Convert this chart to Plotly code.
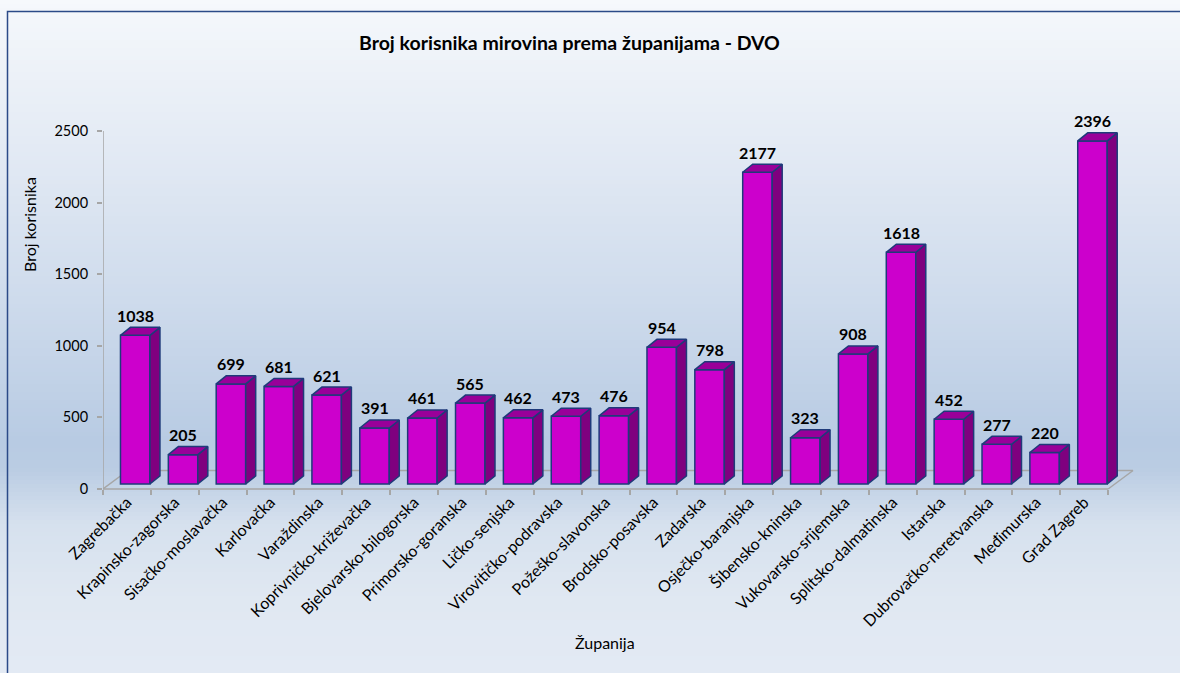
import plotly.graph_objects as go

categories = ["Zagrebačka", "Krapinsko-zagorska", "Sisačko-moslavačka", "Karlovačka",
              "Varaždinska", "Koprivničko-križevačka", "Bjelovarsko-bilogorska",
              "Primorsko-goranska", "Ličko-senjska", "Virovitičko-podravska",
              "Požeško-slavonska", "Brodsko-posavska", "Zadarska", "Osječko-baranjska",
              "Šibensko-kninska", "Vukovarsko-srijemska", "Splitsko-dalmatinska",
              "Istarska", "Dubrovačko-neretvanska", "Međimurska", "Grad Zagreb"]
values = [1038, 205, 699, 681, 621, 391, 461, 565, 462, 473, 476, 954, 798, 2177,
          323, 908, 1618, 452, 277, 220, 2396]
y_ticks = [0, 500, 1000, 1500, 2000, 2500]
title_text = "Broj korisnika mirovina prema županijama - DVO"
x_title = "Županija"
y_title = "Broj korisnika"

# ---- layout geometry ----
W, H = 1180, 673
M_L, M_R, M_T, M_B = 103, 24, 102, 175
X_RANGE = [-0.5, 21.5]
Y_RANGE = [-62.9, 2702.5]
PLOT_W = W - M_L - M_R
PLOT_H = H - M_T - M_B


def px_x(px):
    return (px - M_L) / PLOT_W


def px_y(py):
    return (H - M_B - py) / PLOT_H


# 3D look (data units)
FACE_OFF = 0.173
FACE_W = 0.616
DX = 0.209
DY = 56
BASE = 35
FLOOR_DX = 0.52
FLOOR_DY = 129

FRONT = "#CC00CC"
SIDE = "#7F007F"
TOP = "#990099"
EDGE = "#1F3A7A"
AXIS_GRAY = "#A6A6A6"
FONT = "Lato"

n = len(categories)
fig = go.Figure()

# background gradient strips
stops = [(0, (246, 249, 252)), (12, (244, 247, 251)), (150, (227, 234, 244)),
         (300, (206, 219, 236)), (440, (184, 203, 227)), (468, (186, 204, 227)),
         (525, (214, 225, 238)), (600, (224, 232, 242)), (673, (227, 234, 244))]


def color_at(py):
    for (a, ca), (b, cb) in zip(stops[:-1], stops[1:]):
        if a <= py <= b:
            t = (py - a) / (b - a) if b > a else 0
            return "rgb(%d,%d,%d)" % tuple(round(ca[k] + (cb[k] - ca[k]) * t) for k in range(3))
    return "rgb(%d,%d,%d)" % stops[-1][1]


shapes = []
STEP = 4
for py in range(0, H, STEP):
    shapes.append(dict(type="rect", xref="paper", yref="paper", layer="below",
                       x0=px_x(-5), x1=px_x(W + 5), y0=px_y(py + STEP + 0.5), y1=px_y(py),
                       fillcolor=color_at(py + STEP / 2), line=dict(width=0)))

# outer border
shapes.append(dict(type="rect", xref="paper", yref="paper", layer="above",
                   x0=px_x(7.5), x1=px_x(W + 20), y0=px_y(H + 20), y1=px_y(11.5),
                   fillcolor="rgba(0,0,0,0)", line=dict(color="#2B4A88", width=1.5)))

# floor lines
x_left = -0.5
x_right = n - 0.5
floor_lines = [
    (x_left, 0, x_right, 0),
    (x_left, 0, x_left + FLOOR_DX, FLOOR_DY),
    (x_left + FLOOR_DX, FLOOR_DY, x_right + FLOOR_DX, FLOOR_DY),
    (x_right, 0, x_right + FLOOR_DX, FLOOR_DY),
]
for a, b, c, d in floor_lines:
    shapes.append(dict(type="line", xref="x", yref="y", layer="below",
                       x0=a, y0=b, x1=c, y1=d, line=dict(color=AXIS_GRAY, width=1.5)))
# y axis line
shapes.append(dict(type="line", xref="x", yref="y", layer="below",
                   x0=x_left, y0=0, x1=x_left, y1=y_ticks[-1],
                   line=dict(color=AXIS_GRAY, width=1.5)))

# sides and tops
sx, sy, tx, ty = [], [], [], []
for i, v in enumerate(values):
    x0 = i + FACE_OFF - FACE_W / 2
    x1 = x0 + FACE_W
    y0 = BASE
    y1 = BASE + v
    sx += [x1, x1 + DX, x1 + DX, x1, x1, None]
    sy += [y0, y0 + DY, y1 + DY, y1, y0, None]
    tx += [x0, x1, x1 + DX, x0 + DX, x0, None]
    ty += [y1, y1, y1 + DY, y1 + DY, y1, None]

fig.add_trace(go.Scatter(x=sx, y=sy, mode="lines", fill="toself", fillcolor=SIDE,
                         line=dict(color=EDGE, width=1.5), hoverinfo="skip",
                         showlegend=False))
fig.add_trace(go.Scatter(x=tx, y=ty, mode="lines", fill="toself", fillcolor=TOP,
                         line=dict(color=EDGE, width=1.5), hoverinfo="skip",
                         showlegend=False))
fig.add_trace(go.Bar(x=[i + FACE_OFF for i in range(n)], y=values, base=BASE,
                     width=FACE_W, marker=dict(color=FRONT, line=dict(color=EDGE, width=1.5)),
                     showlegend=False, hovertext=categories))

annotations = []
for i, v in enumerate(values):
    annotations.append(dict(x=i + FACE_OFF, y=BASE + v + DY, xref="x", yref="y",
                            text="<b>%d</b>" % v, showarrow=False, yanchor="middle",
                            yshift=12, font=dict(family=FONT, size=16, color="#000")))

annotations.append(dict(x=px_x(569), y=px_y(43), xref="paper", yref="paper",
                        text="<b>" + title_text + "</b>", showarrow=False,
                        xanchor="center", yanchor="middle",
                        font=dict(family=FONT, size=19.5, color="#000")))
annotations.append(dict(x=px_x(30), y=px_y(225), xref="paper", yref="paper",
                        text=y_title, showarrow=False, textangle=-90,
                        xanchor="center", yanchor="middle",
                        font=dict(family=FONT, size=16, color="#000")))
annotations.append(dict(x=px_x(605), y=px_y(642), xref="paper", yref="paper",
                        text=x_title, showarrow=False,
                        xanchor="center", yanchor="middle",
                        font=dict(family=FONT, size=16, color="#000")))

axis_pos = px_y(489)

fig.update_layout(
    width=W, height=H,
    margin=dict(l=M_L, r=M_R, t=M_T, b=M_B, pad=0),
    paper_bgcolor="white", plot_bgcolor="rgba(0,0,0,0)",
    shapes=shapes, annotations=annotations,
    font=dict(family=FONT, size=15, color="#000"),
    xaxis=dict(range=X_RANGE, tickvals=list(range(n)), ticktext=categories,
               tickangle=-45, ticks="", showgrid=False, zeroline=False, showline=False,
               anchor="free", position=axis_pos,
               tickfont=dict(family=FONT, size=16, color="#000")),
    xaxis2=dict(range=X_RANGE, overlaying="x", anchor="free", position=axis_pos,
                side="bottom", tickvals=[k - 0.5 for k in range(n + 1)],
                ticks="outside", ticklen=5, tickcolor=AXIS_GRAY, tickwidth=1.5,
                showticklabels=False, showgrid=False, zeroline=False, showline=False),
    yaxis=dict(range=Y_RANGE, tickvals=y_ticks, ticks="outside", ticklen=5,
               tickcolor=AXIS_GRAY, tickwidth=1.5, showgrid=False, zeroline=False,
               showline=False, ticklabelstandoff=6,
               tickfont=dict(family=FONT, size=14.5, color="#000")),
    showlegend=False,
)
# dummy trace to activate xaxis2
fig.add_trace(go.Scatter(x=[None], y=[None], xaxis="x2", yaxis="y", showlegend=False))

fig.write_html("out.html", post_script="document.body.style.margin='0';",
               config={"displayModeBar": False})
